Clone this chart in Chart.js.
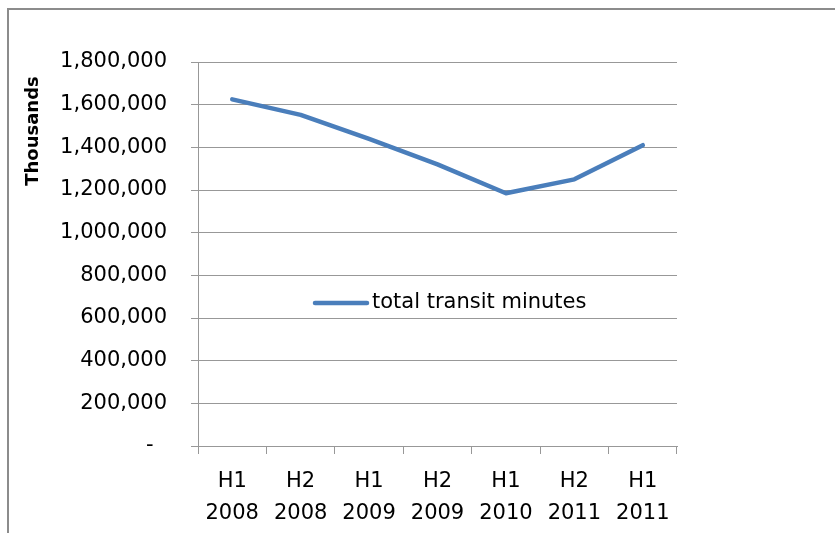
<!DOCTYPE html>
<html>
<head>
<meta charset="utf-8">
<script src="https://cdn.jsdelivr.net/npm/chart.js@4/dist/chart.umd.min.js"></script>
<style>
  html, body { margin: 0; padding: 0; background: #fff; }
  canvas { display: block; }
</style>
</head>
<body>
<canvas id="chart" width="835" height="533"></canvas>
<script>
const periods = [['H1', '2008'], ['H2', '2008'], ['H1', '2009'], ['H2', '2009'], ['H1', '2010'], ['H2', '2011'], ['H1', '2011']];
const transitMinutes = [1625000, 1552000, 1440000, 1320000, 1185000, 1250000, 1410000];
const seriesName = 'total transit minutes';
const axisTitle = 'Thousands';

const FONT = '"DejaVu Sans", sans-serif';
const BLUE = '#4a7ebb';
const GRID = '#989898';

// outer frame, axis title and the in-plot legend
const decorations = {
  id: 'decorations',
  beforeDraw(chart) {
    const ctx = chart.ctx;
    ctx.save();
    ctx.fillStyle = '#fff';
    ctx.fillRect(0, 0, chart.width, chart.height);
    ctx.strokeStyle = '#8c8c8c';
    ctx.lineWidth = 2;
    ctx.strokeRect(8, 9, chart.width + 20, chart.height + 20);
    ctx.restore();
  },
  afterDraw(chart) {
    const ctx = chart.ctx;
    const area = chart.chartArea;
    ctx.save();
    ctx.fillStyle = '#000';
    ctx.font = 'bold 18px ' + FONT;
    ctx.translate(33, 131);
    ctx.rotate(-Math.PI / 2);
    ctx.textAlign = 'center';
    ctx.textBaseline = 'middle';
    ctx.fillText(axisTitle, 0, 0);
    ctx.restore();

    const ds = chart.data.datasets[0];
    const lx = area.left + 115;
    const ly = area.top + 241;
    ctx.save();
    ctx.strokeStyle = ds.borderColor;
    ctx.lineWidth = 4.5;
    ctx.lineCap = 'round';
    ctx.beginPath();
    ctx.moveTo(lx + 2, ly);
    ctx.lineTo(lx + 54, ly);
    ctx.stroke();
    ctx.fillStyle = '#000';
    ctx.font = '21px ' + FONT;
    ctx.textBaseline = 'middle';
    ctx.fillText(ds.label, lx + 59, ly);
    ctx.restore();
  }
};

new Chart(document.getElementById('chart'), {
  type: 'line',
  data: {
    labels: periods,
    datasets: [{
      label: seriesName,
      data: transitMinutes,
      borderColor: BLUE,
      borderWidth: 4.5,
      borderCapStyle: 'round',
      borderJoinStyle: 'round',
      pointRadius: 0,
      tension: 0,
      fill: false
    }]
  },
  options: {
    responsive: false,
    animation: false,
    layout: { padding: { left: 18, top: 62, right: 158, bottom: 0 } },
    plugins: { legend: { display: false }, tooltip: { enabled: false } },
    scales: {
      x: {
        offset: true,
        border: { color: GRID, width: 1 },
        grid: { offset: true, drawOnChartArea: false, drawTicks: true, tickLength: 8, color: GRID },
        ticks: { color: '#000', font: { family: FONT, size: 21, lineHeight: 1.55 }, padding: 11, maxRotation: 0, autoSkip: false },
        afterFit(scale) { scale.height = 87; }
      },
      y: {
        min: 0,
        max: 1800000,
        border: { color: GRID, width: 1 },
        grid: { color: GRID, tickLength: 7 },
        ticks: {
          stepSize: 200000,
          color: '#000',
          padding: 24,
          font: { family: FONT, size: 21 },
          callback: (v) => v === 0 ? '-  ' : v.toLocaleString('en-US')
        },
        afterFit(scale) { scale.width = 180; }
      }
    }
  },
  plugins: [decorations]
});
</script>
</body>
</html>
